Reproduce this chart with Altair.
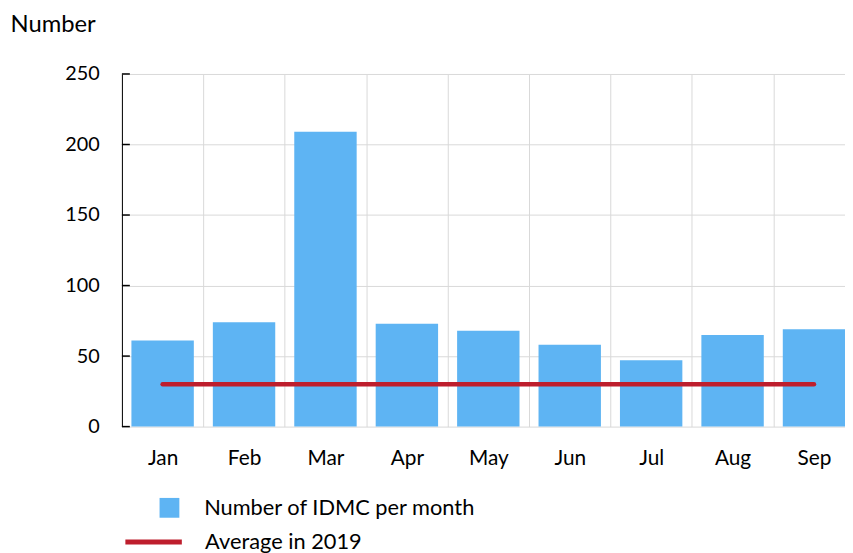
import altair as alt
import pandas as pd

months = ["Jan", "Feb", "Mar", "Apr", "May", "Jun", "Jul", "Aug", "Sep"]
month_index = [0, 1, 2, 3, 4, 5, 6, 7, 8]
counts = [61, 74, 209, 73, 68, 58, 47, 65, 69]
average = [30, 30, 30, 30, 30, 30, 30, 30, 30]
y_ticks = [0, 50, 100, 150, 200, 250]
band_edges = [-0.5, 0.5, 1.5, 2.5, 3.5, 4.5, 5.5, 6.5, 7.5]
bar_label = "Number of IDMC per month"
line_label = "Average in 2019"

df = pd.DataFrame({
    "idx": month_index,
    "month": months,
    "count": counts,
    "avg": average,
    "s1": [bar_label] * len(months),
    "s2": [line_label] * len(months),
})
ticks_df = pd.DataFrame({"v": y_ticks})

FONT = "Lato"
PLOT_W = 730
STEP = 82.2

month_arr = "[" + ",".join("'%s'" % m for m in months) + "]"

x_scale = alt.Scale(domain=[-0.5, -0.5 + PLOT_W / STEP], nice=False, zero=False, padding=0)

x = alt.X(
    "idx:Q",
    scale=x_scale,
    axis=alt.Axis(
        title=None, values=band_edges, labelAngle=0, domain=False, ticks=False,
        grid=True, gridColor="#d9d9d9", gridWidth=1,
        labelExpr=month_arr + "[round(datum.value + 0.5)]",
        labelOffset=STEP / 2, labelFlush=False, labelOverlap=False,
        labelAlign="center",
        labelPadding=21, labelFontSize=21, labelFont=FONT, labelColor="#000",
    ),
)

y_scale = alt.Scale(domain=[0, 250], nice=False, padding=0)

y_axis = alt.Axis(
    values=y_ticks, grid=True, gridColor="#d9d9d9", gridWidth=1,
    domain=True, domainColor="#000", domainWidth=1,
    ticks=False, labelPadding=23, labelFontSize=20, labelFont=FONT, labelColor="#000",
    title="Number", titleAngle=0, titleAlign="left", titleBaseline="middle",
    titleX=-113, titleY=-50, titleFontSize=24, titleFont=FONT,
    titleFontWeight="normal", titleColor="#000",
)

bars = alt.Chart(df).mark_bar(width=63).encode(
    x=x,
    y=alt.Y("count:Q", scale=y_scale, axis=y_axis),
    color=alt.Color(
        "s1:N",
        scale=alt.Scale(range=["#5EB4F3"]),
        legend=alt.Legend(
            title=None, orient="none", legendX=37, legendY=427,
            symbolType="square", symbolSize=400, symbolStrokeWidth=0,
            labelOffset=24, labelFontSize=22, labelFont=FONT, labelColor="#000",
            padding=0, labelLimit=500,
        ),
    ),
)

line = alt.Chart(df).mark_line(strokeWidth=4.5, strokeCap="round").encode(
    x=alt.X("idx:Q", scale=x_scale),
    y=alt.Y("avg:Q", scale=y_scale),
    stroke=alt.Stroke(
        "s2:N",
        scale=alt.Scale(range=["#BE1E2D"]),
        legend=alt.Legend(
            title=None, orient="none", legendX=1, legendY=441.5,
            symbolType="stroke", symbolSize=3249, symbolStrokeWidth=5,
            labelOffset=21, labelFontSize=22, labelFont=FONT, labelColor="#000",
            padding=0, labelLimit=500,
        ),
    ),
)

# inward tick marks on the y axis
yticks = alt.Chart(ticks_df).mark_rule(color="#000", strokeWidth=1.5).encode(
    y=alt.Y("v:Q", scale=y_scale),
    x=alt.value(0),
    x2=alt.value(8),
)

chart = alt.layer(bars, line, yticks).properties(
    width=PLOT_W,
    height=356,
    autosize=alt.AutoSizeParams(type="none"),
    padding={"left": 115, "top": 64, "right": 0, "bottom": 125},
).configure_view(stroke=None)

chart.save("out.html", embed_options={"renderer": "svg", "actions": False})
